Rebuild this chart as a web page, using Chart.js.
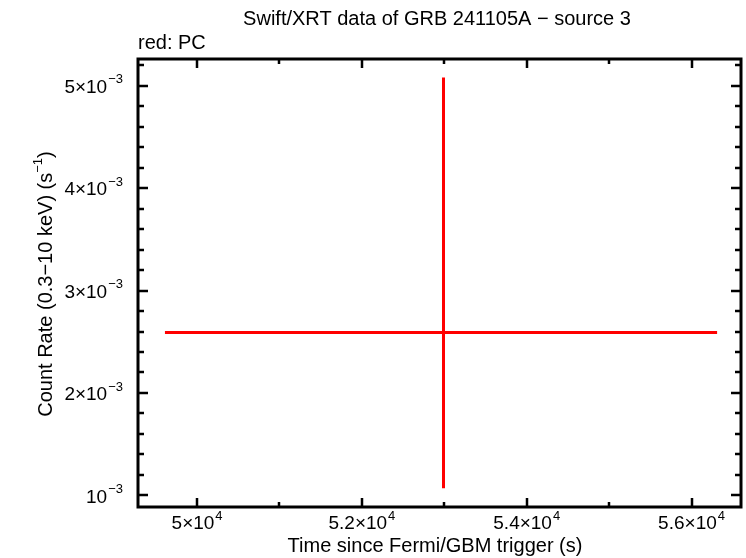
<!DOCTYPE html>
<html lang="en">
<head>
  <meta charset="UTF-8">
  <title>Swift/XRT data of GRB 241105A - source 3</title>
  <style>
    html, body { margin: 0; padding: 0; background: #fff; }
    .chart-container { width: 746px; height: 558px; }
  </style>
</head>
<body>
  <div class="chart-container">
    <canvas id="lcChart"></canvas>
  </div>

  <script src="https://cdn.jsdelivr.net/npm/chart.js"></script>
  <script>
    // values (one PC bin)
    const timeMid = [52990];
    const timeLo = [49610];
    const timeHi = [56310];
    const rate = [2.59e-3];
    const rateLo = [1.068e-3];
    const rateHi = [5.082e-3];

    // axis ticks and labels
    const xTicks = [50000, 52000, 54000, 56000];
    const xTickMant = ['5', '5.2', '5.4', '5.6'];
    const xTickExp = '4';
    const yTicks = [1e-3, 2e-3, 3e-3, 4e-3, 5e-3];
    const yTickMant = ['', '2', '3', '4', '5'];
    const yTickExp = '\u22123';

    const FONT = '"Liberation Sans", Arial, Helvetica, sans-serif';

    // label like 5x10^4
    function sciLabel(ctx, mant, exp, x, y, align) {
      const base = (mant ? mant + '\u00d7' : '') + '10';
      ctx.font = '19px ' + FONT;
      const wb = ctx.measureText(base).width;
      ctx.font = '13px ' + FONT;
      const we = ctx.measureText(exp).width;
      const w = wb + we + 1;
      let x0 = x;
      if (align === 'center') x0 = x - w / 2;
      if (align === 'right') x0 = x - w;
      ctx.textAlign = 'left';
      ctx.textBaseline = 'middle';
      ctx.font = '19px ' + FONT;
      ctx.fillText(base, x0, y);
      ctx.font = '13px ' + FONT;
      ctx.fillText(exp, x0 + wb + 1, y - 8);
    }

    const framePlugin = {
      id: 'frame',
      afterDatasetsDraw(chart) {
        const ctx = chart.ctx;
        const a = chart.chartArea;
        const xs = chart.scales.x;
        const ys = chart.scales.y;
        ctx.save();

        // error bars
        ctx.strokeStyle = '#ff0000';
        ctx.lineWidth = 3;
        for (let i = 0; i < timeMid.length; i++) {
          const px = xs.getPixelForValue(timeMid[i]);
          const py = ys.getPixelForValue(rate[i]);
          ctx.beginPath();
          ctx.moveTo(xs.getPixelForValue(timeLo[i]), py);
          ctx.lineTo(xs.getPixelForValue(timeHi[i]), py);
          ctx.moveTo(px, ys.getPixelForValue(rateLo[i]));
          ctx.lineTo(px, ys.getPixelForValue(rateHi[i]));
          ctx.stroke();
        }

        // frame
        ctx.strokeStyle = '#000';
        ctx.lineWidth = 3;
        ctx.strokeRect(a.left, a.top, a.right - a.left, a.bottom - a.top);

        // ticks, inward on all four sides
        ctx.lineWidth = 2.5;
        ctx.beginPath();
        for (let v = 49000; v <= xs.max; v += 1000) {
          if (v < xs.min) continue;
          const len = xTicks.includes(v) ? 9 : 5;
          const p = Math.round(xs.getPixelForValue(v));
          ctx.moveTo(p, a.bottom); ctx.lineTo(p, a.bottom - len);
          ctx.moveTo(p, a.top); ctx.lineTo(p, a.top + len);
        }
        for (let k = 4; k <= 27; k++) {
          const v = k * 0.2e-3;
          if (v < ys.min || v > ys.max) continue;
          const len = (k % 5 === 0) ? 10 : 6;
          const p = Math.round(ys.getPixelForValue(v));
          ctx.moveTo(a.left, p); ctx.lineTo(a.left + len, p);
          ctx.moveTo(a.right, p); ctx.lineTo(a.right - len, p);
        }
        ctx.stroke();

        // tick labels
        ctx.fillStyle = '#000';
        xTicks.forEach((v, i) => {
          sciLabel(ctx, xTickMant[i], xTickExp, xs.getPixelForValue(v), a.bottom + 17, 'center');
        });
        yTicks.forEach((v, i) => {
          sciLabel(ctx, yTickMant[i], yTickExp, a.left - 15, ys.getPixelForValue(v) + 2, 'right');
        });

        // titles
        ctx.textBaseline = 'middle';
        ctx.textAlign = 'center';
        ctx.font = '20px ' + FONT;
        ctx.fillText('Swift/XRT data of GRB 241105A \u2212 source 3', 437, 19);
        ctx.fillText('Time since Fermi/GBM trigger (s)', 435, 546);
        ctx.textAlign = 'left';
        ctx.fillText('red: PC', 138, 43);

        ctx.translate(46, 284);
        ctx.rotate(-Math.PI / 2);
        ctx.font = '20px ' + FONT;
        const t1 = 'Count Rate (0.3\u221210 keV) (s';
        const w1 = ctx.measureText(t1).width;
        ctx.font = '13px ' + FONT;
        const w2 = ctx.measureText('\u22121').width;
        ctx.font = '20px ' + FONT;
        const w3 = ctx.measureText(')').width;
        const x0 = -(w1 + w2 + w3) / 2;
        ctx.fillText(t1, x0, 0);
        ctx.font = '13px ' + FONT;
        ctx.fillText('\u22121', x0 + w1, -8);
        ctx.font = '20px ' + FONT;
        ctx.fillText(')', x0 + w1 + w2, 0);
        ctx.restore();
      }
    };

    const ctx = document.getElementById('lcChart').getContext('2d');
    new Chart(ctx, {
      type: 'scatter',
      data: {
        datasets: [{
          label: 'PC',
          data: timeMid.map((t, i) => ({ x: t, y: rate[i] })),
          pointRadius: 0,
          borderColor: '#ff0000',
          backgroundColor: '#ff0000'
        }]
      },
      options: {
        responsive: true,
        maintainAspectRatio: false,
        animation: false,
        layout: { padding: { top: 59, right: 5, left: 0, bottom: 0 } },
        plugins: { legend: { display: false }, tooltip: { enabled: false } },
        scales: {
          x: {
            type: 'linear',
            min: 49283,
            max: 56600,
            ticks: { display: false },
            grid: { display: false },
            border: { display: false },
            afterFit: s => { s.height = 51; }
          },
          y: {
            type: 'linear',
            min: 0.886e-3,
            max: 5.262e-3,
            ticks: { display: false },
            grid: { display: false },
            border: { display: false },
            afterFit: s => { s.width = 138; }
          }
        }
      },
      plugins: [framePlugin]
    });
  </script>
</body>
</html>
